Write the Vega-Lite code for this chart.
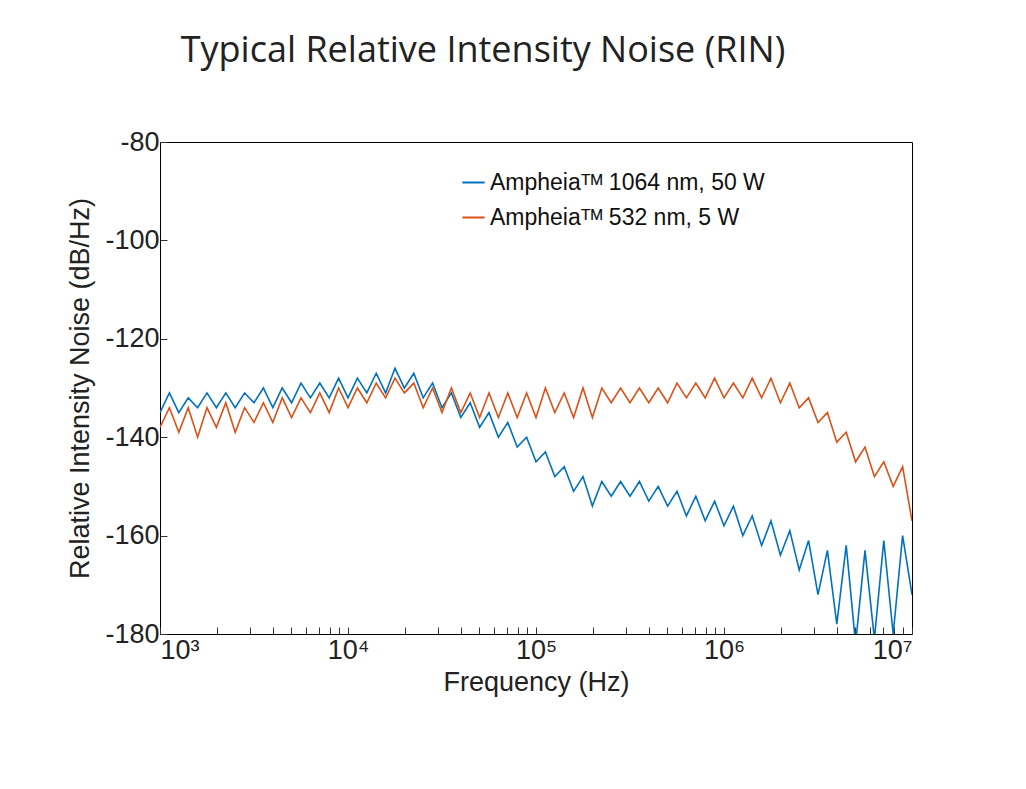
{
  "$schema": "https://vega.github.io/schema/vega-lite/v6.json",
  "autosize": "none",
  "width": 752,
  "height": 492,
  "padding": {"left": 160, "top": 142, "right": 114, "bottom": 155},
  "background": "white",
  "title": {
    "text": "Typical Relative Intensity Noise (RIN)",
    "font": "Open Sans",
    "fontSize": 36,
    "fontWeight": "normal",
    "color": "#222222",
    "anchor": "middle",
    "dx": -53,
    "offset": 58
  },
  "config": {
    "view": {"stroke": "black", "strokeWidth": 1},
    "axis": {
      "labelFont": "Liberation Sans",
      "titleFont": "Liberation Sans",
      "labelFontSize": 27,
      "titleFontSize": 27,
      "titleFontWeight": "normal",
      "labelColor": "#222222",
      "titleColor": "#222222",
      "grid": false,
      "domain": false,
      "tickColor": "#333333",
      "tickSize": -7
    }
  },
  "data": {
    "values": [
      {"f": 1000, "a1064": -135, "a532": -138},
      {"f": 1122, "a1064": -131, "a532": -134},
      {"f": 1259, "a1064": -135, "a532": -139},
      {"f": 1413, "a1064": -132, "a532": -134},
      {"f": 1585, "a1064": -134, "a532": -140},
      {"f": 1778, "a1064": -131, "a532": -134},
      {"f": 1995, "a1064": -134, "a532": -138},
      {"f": 2239, "a1064": -131, "a532": -133},
      {"f": 2512, "a1064": -134, "a532": -139},
      {"f": 2818, "a1064": -131, "a532": -134},
      {"f": 3162, "a1064": -133, "a532": -137},
      {"f": 3548, "a1064": -130, "a532": -133},
      {"f": 3981, "a1064": -134, "a532": -137},
      {"f": 4467, "a1064": -130, "a532": -132},
      {"f": 5012, "a1064": -133, "a532": -136},
      {"f": 5623, "a1064": -129, "a532": -132},
      {"f": 6310, "a1064": -132, "a532": -135},
      {"f": 7079, "a1064": -129, "a532": -131},
      {"f": 7943, "a1064": -132, "a532": -135},
      {"f": 8913, "a1064": -128, "a532": -130},
      {"f": 10000, "a1064": -132, "a532": -134},
      {"f": 11220, "a1064": -128, "a532": -130},
      {"f": 12590, "a1064": -131, "a532": -133},
      {"f": 14130, "a1064": -127, "a532": -129},
      {"f": 15850, "a1064": -131, "a532": -132},
      {"f": 17780, "a1064": -126, "a532": -128},
      {"f": 19950, "a1064": -130, "a532": -131},
      {"f": 22390, "a1064": -127, "a532": -129},
      {"f": 25120, "a1064": -132, "a532": -134},
      {"f": 28180, "a1064": -129, "a532": -130},
      {"f": 31620, "a1064": -134, "a532": -135},
      {"f": 35480, "a1064": -131, "a532": -130},
      {"f": 39810, "a1064": -136, "a532": -135},
      {"f": 44670, "a1064": -133, "a532": -131},
      {"f": 50120, "a1064": -138, "a532": -136},
      {"f": 56230, "a1064": -135, "a532": -131},
      {"f": 63100, "a1064": -140, "a532": -136},
      {"f": 70790, "a1064": -137, "a532": -131},
      {"f": 79430, "a1064": -142, "a532": -136},
      {"f": 89130, "a1064": -140, "a532": -131},
      {"f": 100000, "a1064": -145, "a532": -136},
      {"f": 112200, "a1064": -143, "a532": -130},
      {"f": 125900, "a1064": -148, "a532": -135},
      {"f": 141300, "a1064": -146, "a532": -131},
      {"f": 158500, "a1064": -151, "a532": -136},
      {"f": 177800, "a1064": -148, "a532": -130},
      {"f": 199500, "a1064": -154, "a532": -136},
      {"f": 223900, "a1064": -149, "a532": -130},
      {"f": 251200, "a1064": -152, "a532": -133},
      {"f": 281800, "a1064": -149, "a532": -130},
      {"f": 316200, "a1064": -152, "a532": -133},
      {"f": 354800, "a1064": -149, "a532": -130},
      {"f": 398100, "a1064": -153, "a532": -133},
      {"f": 446700, "a1064": -150, "a532": -130},
      {"f": 501200, "a1064": -154, "a532": -133},
      {"f": 562300, "a1064": -151, "a532": -129},
      {"f": 631000, "a1064": -156, "a532": -132},
      {"f": 707900, "a1064": -152, "a532": -129},
      {"f": 794300, "a1064": -157, "a532": -132},
      {"f": 891300, "a1064": -153, "a532": -128},
      {"f": 1000000, "a1064": -158, "a532": -132},
      {"f": 1122000, "a1064": -154, "a532": -129},
      {"f": 1259000, "a1064": -160, "a532": -132},
      {"f": 1413000, "a1064": -156, "a532": -128},
      {"f": 1585000, "a1064": -162, "a532": -132},
      {"f": 1778000, "a1064": -157, "a532": -128},
      {"f": 1995000, "a1064": -164, "a532": -133},
      {"f": 2239000, "a1064": -159, "a532": -129},
      {"f": 2512000, "a1064": -167, "a532": -134},
      {"f": 2818000, "a1064": -161, "a532": -132},
      {"f": 3162000, "a1064": -172, "a532": -137},
      {"f": 3548000, "a1064": -163, "a532": -135},
      {"f": 3981000, "a1064": -178, "a532": -141},
      {"f": 4467000, "a1064": -162, "a532": -139},
      {"f": 5012000, "a1064": -182, "a532": -145},
      {"f": 5623000, "a1064": -163, "a532": -142},
      {"f": 6310000, "a1064": -181, "a532": -148},
      {"f": 7079000, "a1064": -161, "a532": -145},
      {"f": 7943000, "a1064": -180, "a532": -150},
      {"f": 8913000, "a1064": -160, "a532": -146},
      {"f": 10000000, "a1064": -172, "a532": -157}
    ]
  },
  "transform": [{"fold": ["a1064", "a532"], "as": ["series", "rin"]}],
  "mark": {"type": "line", "strokeWidth": 1.6, "clip": true},
  "encoding": {
    "x": {
      "field": "f",
      "type": "quantitative",
      "scale": {"type": "log", "domain": [1000, 10000000], "nice": false, "padding": 0},
      "axis": {
        "title": "Frequency (Hz)",
        "titlePadding": 6,
        "labelPadding": 10,
        "values": [1000,2000,3000,4000,5000,6000,7000,8000,9000,10000,20000,30000,40000,50000,60000,70000,80000,90000,100000,200000,300000,400000,500000,600000,700000,800000,900000,1000000,2000000,3000000,4000000,5000000,6000000,7000000,8000000,9000000,10000000],
        "labelExpr": "datum.value == 1000 ? '10³' : datum.value == 10000 ? '10⁴' : datum.value == 100000 ? '10⁵' : datum.value == 1000000 ? '10⁶' : datum.value == 10000000 ? '10⁷' : ''"
      }
    },
    "y": {
      "field": "rin",
      "type": "quantitative",
      "scale": {"domain": [-180, -80], "nice": false},
      "axis": {"title": "Relative Intensity Noise (dB/Hz)", "values": [-180, -160, -140, -120, -100, -80], "labelExpr": "'-' + abs(datum.value)", "labelPadding": 8, "titlePadding": 10}
    },
    "color": {
      "field": "series",
      "type": "nominal",
      "scale": {"domain": ["a1064", "a532"], "range": ["#0072BD", "#D95319"]},
      "legend": {
        "title": null,
        "orient": "none",
        "legendX": 295,
        "legendY": 22,
        "symbolType": "stroke",
        "symbolStrokeWidth": 2,
        "symbolSize": 500,
        "labelFont": "Liberation Sans",
        "labelFontSize": 23,
        "labelLimit": 600,
        "labelColor": "#111111",
        "rowPadding": 10,
        "padding": 6,
        "fillColor": "white",
        "labelExpr": "datum.value == 'a1064' ? 'Ampheiaᵀᴹ 1064 nm, 50 W' : 'Ampheiaᵀᴹ  532 nm,   5 W'"
      }
    }
  }
}
